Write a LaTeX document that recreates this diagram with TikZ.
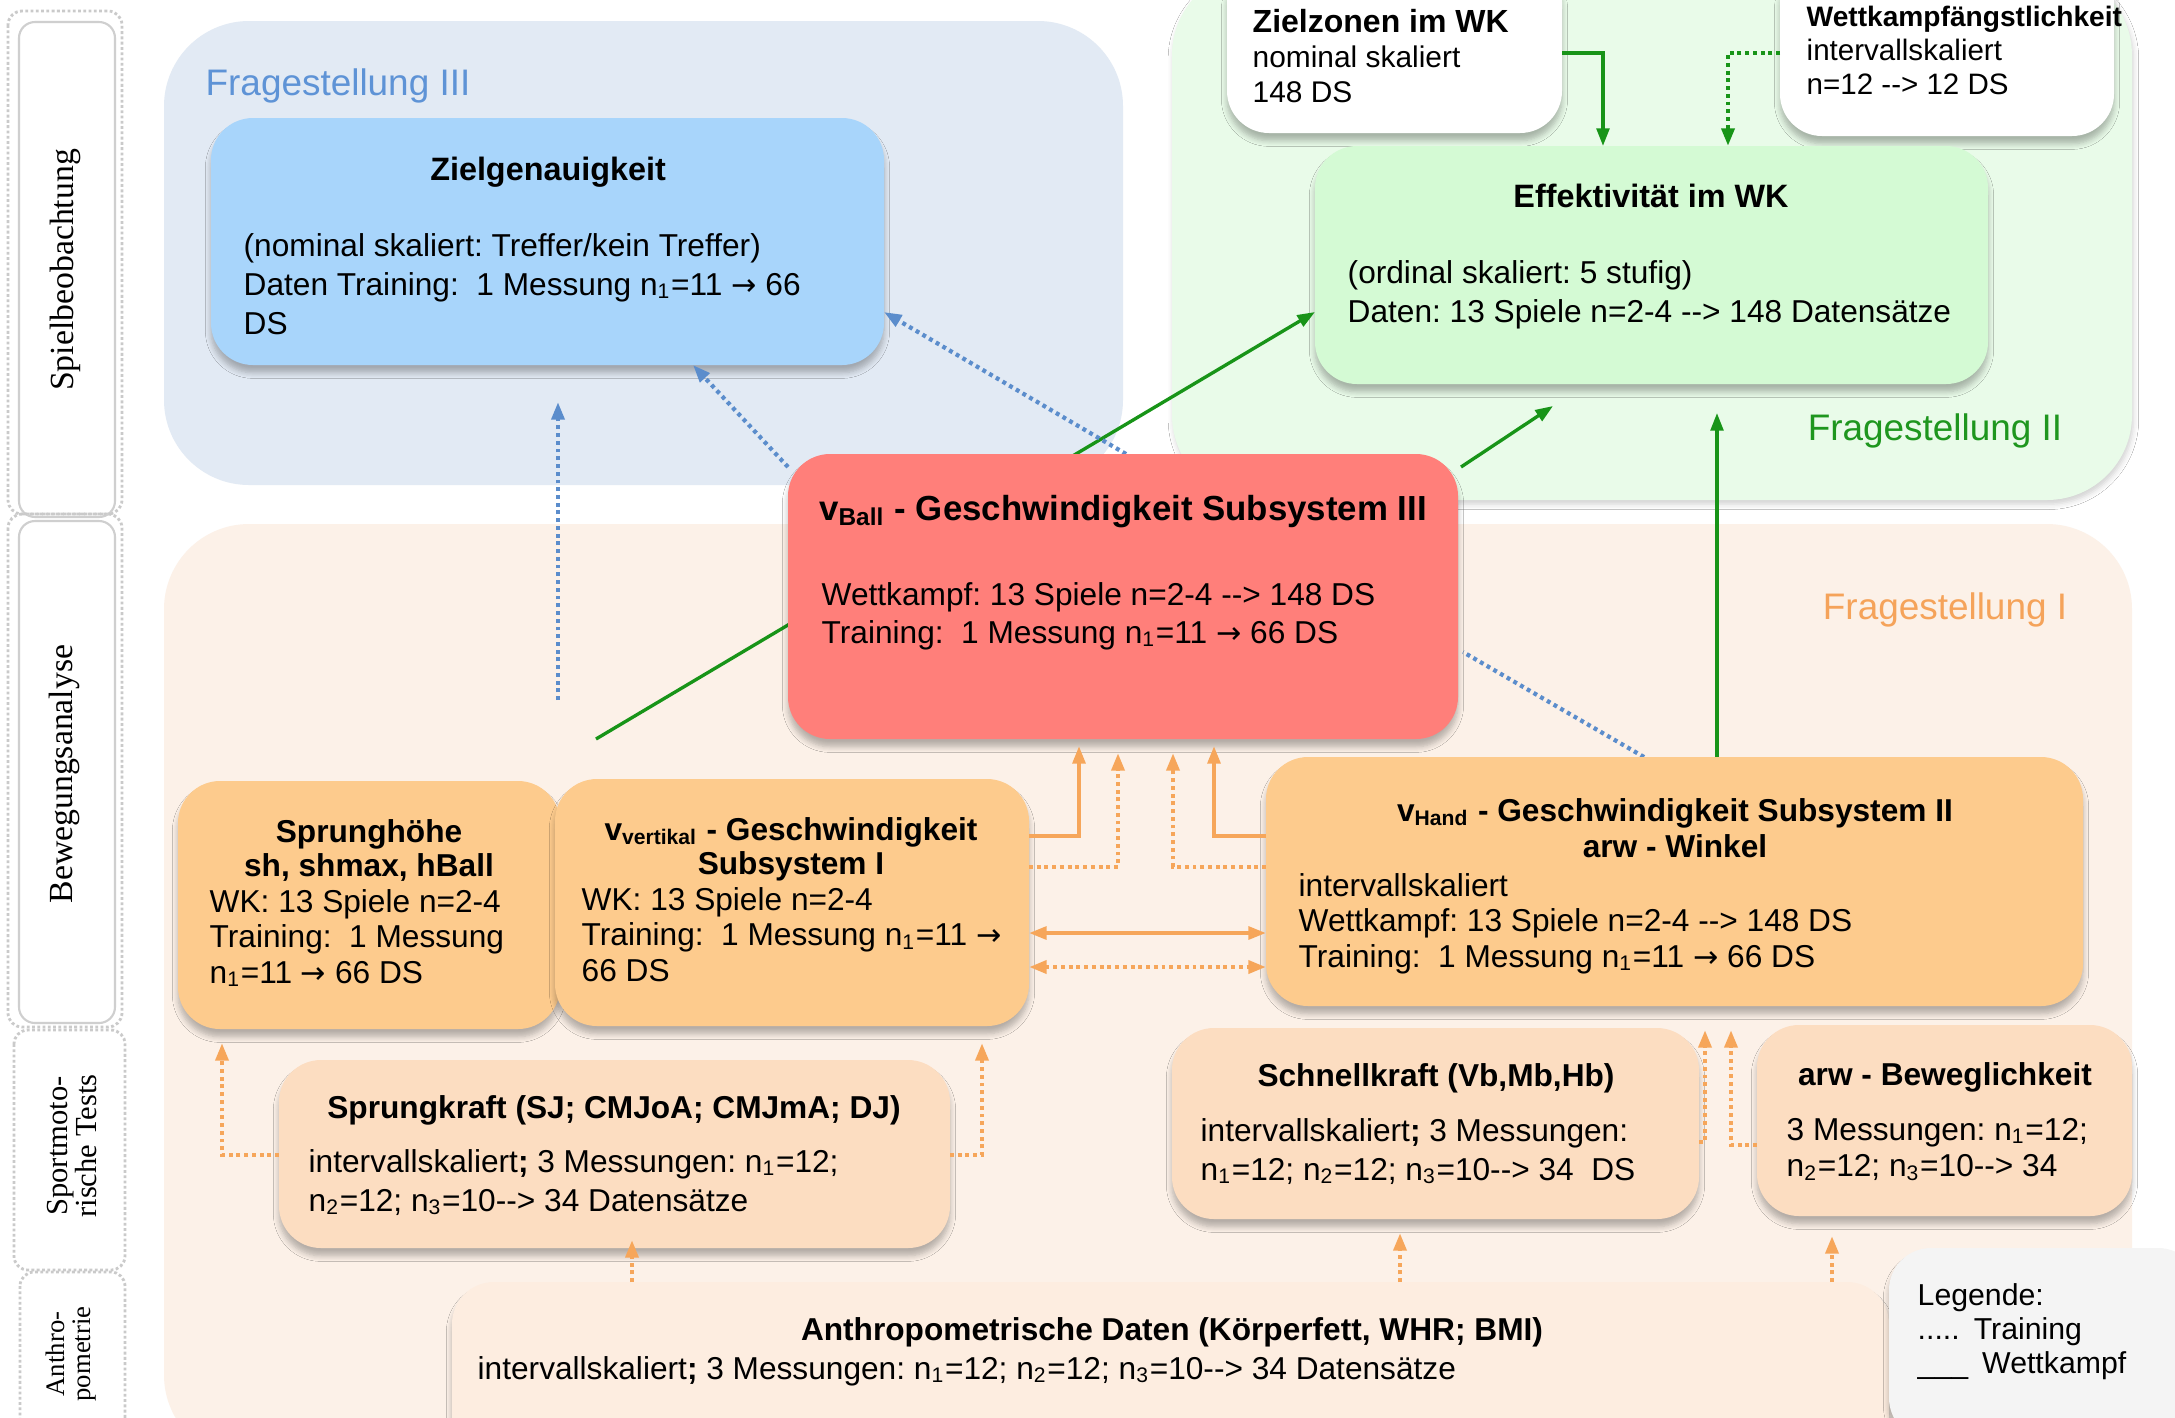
\documentclass[tikz,border=0pt]{standalone}
\usepackage{fontspec}
\setmainfont{Liberation Sans}
\newfontfamily\sidefont{Liberation Serif}
\newfontfamily\symfont{DejaVu Sans}
\usetikzlibrary{arrows.meta,fit,calc,shadows.blur}
\frenchspacing

\newcommand\ra{{\symfont\fontsize{8.6}{8}\selectfont →}}
\newcommand\txl[1]{\begin{tabular}[t]{@{}l@{}}#1\end{tabular}}
\newcommand\txc[1]{\begin{tabular}[t]{@{}c@{}}#1\end{tabular}}
\newcommand\fs[2]{\fontsize{#1}{#2}\selectfont}
\newcommand\sub[1]{\textsubscript{#1}}

\definecolor{bgIII}{HTML}{E2EAF4}
\definecolor{bgII}{HTML}{E9FBE9}
\definecolor{bgI}{HTML}{FCF1E8}
\definecolor{cZiel}{HTML}{A8D5FB}
\definecolor{cEff}{HTML}{D4FAD4}
\definecolor{cBall}{HTML}{FF7F7A}
\definecolor{cOrange}{HTML}{FDCB8D}
\definecolor{cPeach}{HTML}{FCDDC1}
\definecolor{cAnth}{HTML}{FDEDE0}
\definecolor{cLeg}{HTML}{F4F4F4}
\definecolor{lBlue}{HTML}{5B8DCC}
\definecolor{lGreen}{RGB}{24,148,24}
\definecolor{lOrange}{HTML}{F6A65A}
\definecolor{tBlue}{HTML}{5E93D6}
\definecolor{tGreen}{RGB}{30,150,30}
\definecolor{tOrange}{HTML}{F5A35A}
\definecolor{sideGray}{HTML}{CACACA}

\tikzset{
  region/.style={fill=#1, rounded corners=0.85cm, inner sep=0pt, outer sep=0pt},
  box/.style={fill=#1, rounded corners=0.42cm, inner sep=0pt, outer sep=0pt,
    blur shadow={shadow xshift=0pt, shadow yshift=-2.2pt, shadow blur radius=1.6pt,
      shadow blur steps=6, shadow opacity=28}},
  txt/.style={inner sep=0pt, anchor=base west},
  ttl/.style={inner sep=0pt, anchor=base},
  sidelbl/.style={inner sep=0pt, rotate=90, align=center, font=\sidefont},
  sideout/.style={draw=sideGray, line width=0.8pt, dash pattern=on 0.8pt off 0.7pt, rounded corners=0.14cm},
  sidein/.style={draw=sideGray!90, line width=0.6pt, rounded corners=0.16cm},
  tip/.style={-{Triangle[length=5pt,width=3.6pt]}},
  tips/.style={{Triangle[length=5pt,width=3.6pt]}-{Triangle[length=5pt,width=3.6pt]}},
  wkline/.style={line width=0.95pt},
  trline/.style={line width=1.2pt, dash pattern=on 1.1pt off 1.1pt},
}

\begin{document}
\begin{tikzpicture}[x=0.01cm, y=-0.01cm]
\useasboundingbox (0,0) rectangle (2175,1417);
\fill[white] (0,0) rectangle (2175,1417);

% ---------- side column ----------
\draw[sideout] (8,11) rectangle (122,514);
\draw[sidein] (19,22) rectangle (115,517);
\draw[sideout] (8,514) rectangle (122,1027);
\draw[sidein] (19,521) rectangle (115,1023);
\draw[sideout] (14,1030) rectangle (125,1270);
\draw[sideout] (20,1272) rectangle (125,1440);
\node[sidelbl, font=\sidefont\fs{9.6}{11}] (sb1) at (65,270) {Spielbeobachtung};
\node[sidelbl, font=\sidefont\fs{9.6}{11}] (sb2) at (64,774) {Bewegungsanalyse};
\node[sidelbl, font=\sidefont\fs{8.7}{8.2}] (sb3) at (72,1146) {Sportmoto-\\rische Tests};
\node[sidelbl, font=\sidefont\fs{7.6}{7.2}] (sb4) at (71,1354) {Anthro-\\pometrie};

% ---------- question areas ----------
\node[region=bgIII, fit={(164,21) (1123,485)}] (fIII) {};
\node[region=bgII, fit={(1172,-30) (2132,500)},
  blur shadow={shadow xshift=0.4pt, shadow yshift=-1.2pt, shadow blur radius=1.5pt, shadow opacity=18}] (fII) {};
\node[region=bgI, fit={(164,524) (2132,1460)}] (fI) {};

\node[font=\fs{10.5}{12}, text=tBlue, inner sep=0pt] (lIII) at (338,86) {Fragestellung III};
\node[font=\fs{10.5}{12}, text=tGreen, inner sep=0pt] (lII) at (1935,431) {Fragestellung II};
\node[font=\fs{10.5}{12}, text=tOrange, inner sep=0pt] (lI) at (1945,610) {Fragestellung I};

% ---------- boxes (upper part) ----------
\node[box=cZiel, fit={(211,118) (884,365)}] (zg) {};
\node[box=white, fit={(1227,-40) (1562,133)}] (zz) {};
\node[box=white, fit={(1780,-40) (2114,136)}] (wa) {};
\node[box=cEff, fit={(1315,146) (1988,384)}] (eff) {};

% connectors that run beneath the central box
\coordinate (gstart) at (596,739);
\draw[wkline, lGreen, tip] (gstart) -- (eff.west |- 0,312);
\draw[trline, lBlue, tip] ($(zg.south -| 0,0)+(788,102)$) -- (693,0 |- zg.south);
\draw[trline, lBlue, tip] (1126,0 |- fIII.south) ++(0,-31) -- (zg.east |- 0,312);
\draw[trline, lBlue] (1644,757) -- (1463,652);

\node[box=cBall, fit={(788,454) (1458,739)}] (vball) {};

% ---------- boxes (lower part) ----------
\node[box=cOrange, fit={(178,781) (560,1029)}] (sh) {};
\node[box=cOrange, fit={(555,779) (1029,1026)}] (vvert) {};
\node[box=cOrange, fit={(1266,757) (2083,1006)}] (vhand) {};
\node[box=cPeach, fit={(279,1060) (950,1248)}] (sk) {};
\node[box=cPeach, fit={(1172,1028) (1699,1219)}] (snk) {};
\node[box=cPeach, fit={(1757,1025) (2132,1216)}] (arwb) {};
\node[box=cAnth, fit={(452,1282) (1889,1460)}] (anth) {};
\node[box=cLeg, fit={(1889,1248) (2200,1440)}] (leg) {};

% ---------- texts ----------
\node[ttl, font=\bfseries\fs{9.2}{11}] (zg-t) at (548,180) {Zielgenauigkeit};
\node[txt, font=\fs{9}{11.1}] (zg-b) at (243,256)
  {\txl{(nominal skaliert: Treffer/kein Treffer)\\Daten Training:\ \ 1 Messung n\sub{1}=11 \ra{} 66\\DS}};

\node[txt, font=\fs{8.5}{10}] (zz-b) at (1252,32)
  {\txl{\fontsize{9.1}{10}\selectfont\bfseries Zielzonen im WK\\nominal skaliert\\148 DS}};
\node[txt, font=\fs{8.4}{9.7}] (wa-b) at (1806,26)
  {\txl{\fontsize{8}{9.7}\selectfont\bfseries Wettkampfängstlichkeit\\intervallskaliert\\n=12 -{}-> 12 DS}};

\node[ttl, font=\bfseries\fs{9.2}{11}] (eff-t) at (1651,207) {Effektivität im WK};
\node[txt, font=\fs{9}{11.1}] (eff-b) at (1347,283)
  {\txl{(ordinal skaliert: 5 stufig)\\Daten: 13 Spiele n=2-4 -{}-> 148 Datensätze}};

\node[ttl, font=\bfseries\fs{9.9}{11}] (vball-t) at (1123,520) {v\sub{Ball} - Geschwindigkeit Subsystem III};
\node[txt, font=\fs{9}{10.9}] (vball-b) at (821,605)
  {\txl{Wettkampf: 13 Spiele n=2-4 -{}-> 148 DS\\Training:\ \ 1 Messung n\sub{1}=11 \ra{} 66 DS}};

\node[ttl, font=\bfseries\fs{9}{9.8}] (sh-t) at (369,842) {\txc{Sprunghöhe\\sh, shmax, hBall}};
\node[txt, font=\fs{9}{10.1}] (sh-b) at (209,912)
  {\txl{WK: 13 Spiele n=2-4\\Training:\ \ 1 Messung\\n\sub{1}=11 \ra{} 66 DS}};

\node[ttl, font=\bfseries\fs{9}{9.8}] (vvert-t) at (791,840) {\txc{v\sub{vertikal} - Geschwindigkeit\\Subsystem I}};
\node[txt, font=\fs{9}{10.1}] (vvert-b) at (581,910)
  {\txl{WK: 13 Spiele n=2-4\\Training:\ \ 1 Messung n\sub{1}=11 \ra\\66 DS}};

\node[ttl, font=\bfseries\fs{9}{10.5}] (vhand-t) at (1675,821) {\txc{v\sub{Hand} - Geschwindigkeit Subsystem II\\arw - Winkel}};
\node[txt, font=\fs{9}{10.1}] (vhand-b) at (1298,896)
  {\txl{intervallskaliert\\Wettkampf: 13 Spiele n=2-4 -{}-> 148 DS\\Training:\ \ 1 Messung n\sub{1}=11 \ra{} 66 DS}};

\node[ttl, font=\bfseries\fs{9}{11}] (sk-t) at (614,1118) {Sprungkraft (SJ; CMJoA; CMJmA; DJ)};
\node[txt, font=\fs{9}{11.1}] (sk-b) at (308,1172)
  {\txl{intervallskaliert\textbf{;} 3 Messungen: n\sub{1}=12;\\n\sub{2}=12; n\sub{3}=10-{}-> 34 Datensätze}};

\node[ttl, font=\bfseries\fs{9}{11}] (snk-t) at (1436,1086) {Schnellkraft (Vb,Mb,Hb)};
\node[txt, font=\fs{9}{11.1}] (snk-b) at (1200,1141)
  {\txl{intervallskaliert\textbf{;} 3 Messungen:\\n\sub{1}=12; n\sub{2}=12; n\sub{3}=10-{}-> 34\ \ DS}};

\node[ttl, font=\bfseries\fs{9}{11}] (arwb-t) at (1945,1085) {arw - Beweglichkeit};
\node[txt, font=\fs{9}{10.5}] (arwb-b) at (1786,1140)
  {\txl{3 Messungen: n\sub{1}=12;\\n\sub{2}=12; n\sub{3}=10-{}-> 34}};

\node[ttl, font=\bfseries\fs{9}{11}] (anth-t) at (1172,1340) {Anthropometrische Daten (Körperfett, WHR; BMI)};
\node[txt, font=\fs{9}{11}] (anth-b) at (477,1379)
  {intervallskaliert\textbf{;} 3 Messungen: n\sub{1}=12; n\sub{2}=12; n\sub{3}=10-{}-> 34 Datensätze};

\node[txt, font=\fs{8.6}{9.8}] (leg-b) at (1917,1305)
  {\txl{Legende:\\.....\hspace{4pt}Training\\\_\_\_\hspace{4pt}Wettkampf}};

% ---------- connectors: Fragestellung III (blue) ----------
\coordinate (bfoot) at (558,700);
\coordinate (bhead) at (558,402);
\draw[trline, lBlue, tip] (bfoot) -- (bhead);

% ---------- connectors: Fragestellung II (green) ----------
\coordinate (ghead) at (1553,406);
\draw[wkline, lGreen, tip] ($(vball.north east)+(3,13)$) -- (ghead);
\draw[wkline, lGreen, tip] (1717,0 |- vhand.north) -- (1717,413);
\draw[wkline, lGreen, tip] (zz.east |- 0,53) -| (1603,0 |- eff.north);
\draw[trline, lGreen, tip] (wa.west |- 0,53) -| (1728,0 |- eff.north);

% ---------- connectors: Fragestellung I (orange) ----------
\draw[wkline, line width=1.1pt, lOrange, tip] (vvert.east |- 0,836) -| (1079,746);
\draw[trline, lOrange, tip] (vvert.east |- 0,867) -| (1118,753);
\draw[trline, lOrange, tip] (vhand.west |- 0,867) -| (1173,753);
\draw[wkline, line width=1.1pt, lOrange, tip] (vhand.west |- 0,836) -| (1214,746);
\draw[wkline, line width=1.1pt, lOrange, tips] (vvert.east |- 0,933) -- (vhand.west |- 0,933);
\draw[trline, lOrange, tips] (vvert.east |- 0,967) -- (vhand.west |- 0,967);
\draw[trline, lOrange, tip] (sk.west |- 0,1155) -| (222,1043);
\draw[trline, lOrange, tip] (sk.east |- 0,1155) -| (982,1043);
\draw[trline, lOrange, tip] (snk.east |- 0,1142) -| (1705,1030);
\draw[trline, lOrange, tip] (arwb.west |- 0,1145) -| (1731,1030);
\draw[trline, lOrange, tip] (632,0 |- anth.north) -- (632,1240);
\draw[trline, lOrange, tip] (1400,0 |- anth.north) -- (1400,1233);
\draw[trline, lOrange, tip] (1832,0 |- anth.north) -- (1832,1236);
\end{tikzpicture}
\end{document}
